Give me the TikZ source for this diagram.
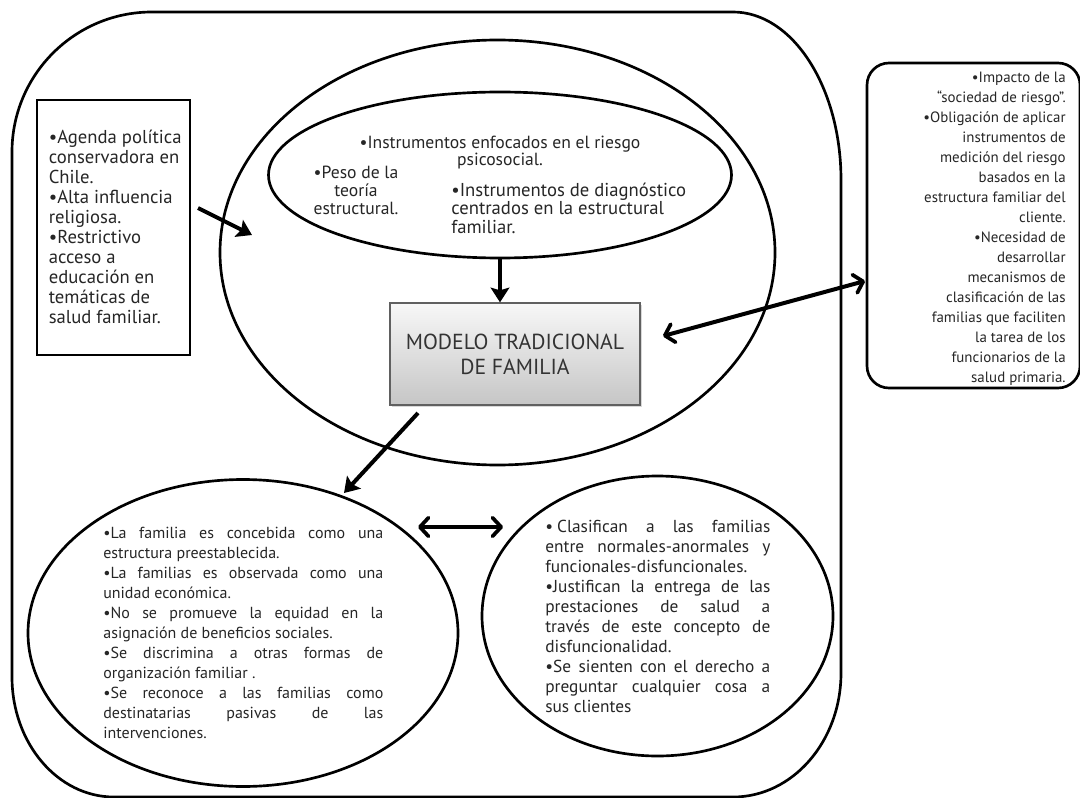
\documentclass[tikz,border=0pt]{standalone}
\usepackage{fontspec}
\setmainfont{PT Sans}
\usetikzlibrary{shapes.geometric,arrows.meta,shadows}
\newcommand\tp{\rule{0pt}{10.5pt}}
\newcommand\jl[2]{\makebox[#1][s]{#2}}
\begin{document}
\begin{tikzpicture}[x=0.75pt,y=-0.75pt,line width=2pt,
  txt/.style={inner sep=0pt,font=\fontsize{12}{15}\selectfont,text=black!85},
  shapeell/.style={ellipse,draw,inner sep=0pt},
  arr/.style={line width=3pt,-{Stealth[length=11pt,width=14pt,inset=2pt]}},
  darr/.style={line width=3pt,{Straight Barb[length=6.5pt,width=14pt,line width=2.8pt,line cap=round,line join=round]}-{Straight Barb[length=6.5pt,width=14pt,line width=2.8pt,line cap=round,line join=round]}}]
\useasboundingbox (0,0) rectangle (1080,798);
\fill[white] (0,0) rectangle (1080,798);
% outer frame
\draw (12,152) .. controls (12,74.7) and (74.7,12) .. (152,12) -- (733,12)
  .. controls (792.6,12) and (841,87.3) .. (841,180) -- (841,673)
  .. controls (841,741.4) and (792.6,797) .. (733,797) -- (114,797)
  .. controls (57.7,797) and (12,743.2) .. (12,677) -- cycle;
% shapes
\node[shapeell,minimum width=416.25pt,minimum height=318.75pt] (big) at (497.5,252.5) {};
\node[shapeell,minimum width=347.25pt,minimum height=124.5pt] (inner) at (500,175) {};
\node[draw=gray!75!black,line width=1pt,top color=gray!6,bottom color=gray!45,
  drop shadow={opacity=0.3,shadow xshift=1.5pt,shadow yshift=-1.5pt},
  minimum width=187.5pt,minimum height=76.5pt,inner sep=0pt,align=center,
  font=\fontsize{16.3}{18.75}\selectfont,text=black!80] (box) at (515,354)
  {MODELO TRADICIONAL\\DE FAMILIA};
\node[draw,rectangle,inner sep=0pt,minimum width=114.75pt,minimum height=191.25pt] (lbox) at (113.5,227.5) {};
\node[draw,rectangle,rounded corners=16.5pt,inner sep=0pt,minimum width=159.75pt,minimum height=243.75pt] (rbox) at (973.5,225.5) {};
\node[shapeell,minimum width=322.5pt,minimum height=230.25pt] (ll) at (243,633) {};
\node[shapeell,minimum width=263.25pt,minimum height=210pt] (lr) at (657.5,616) {};
% texts
\node[txt,anchor=north west,align=left,font=\fontsize{14}{15}\selectfont] (ltext) at (47.5,128.5)
 {\tp•Agenda política\\conservadora en\\Chile.\\•Alta influencia\\religiosa.\\•Restrictivo\\acceso a\\educación en\\temáticas de\\salud familiar.};
\node[txt,anchor=north east,align=right,font=\fontsize{11.2}{15}\selectfont] (rtext) at (1067,67.5)
 {\tp•Impacto de la\\“sociedad de riesgo”.\\•Obligación de aplicar\\instrumentos de\\medición del riesgo\\basados en la\\estructura familiar del\\cliente.\\•Necesidad de\\desarrollar\\mecanismos de\\clasificación de las\\familias que faciliten\\la tarea de los\\funcionarios de la\\salud primaria.};
\node[txt,anchor=north,align=center,font=\fontsize{13.2}{10}\selectfont] (t1) at (500,133)
 {\tp•Instrumentos enfocados en el riesgo\\psicosocial.};
\node[txt,anchor=north,align=center,font=\fontsize{13.2}{13.5}\selectfont] (t2) at (356,163)
 {\tp•Peso de la\\teoría\\estructural.};
\node[txt,anchor=north west,align=left,font=\fontsize{14}{14}\selectfont] (t3) at (450,181)
 {\tp•Instrumentos de diagnóstico\\centrados en la estructural\\familiar.};
\node[txt,anchor=north west,align=left] (lltext) at (102,523.5)
 {\tp\jl{210pt}{•La familia es concebida como una}\\
  estructura preestablecida.\\
  \jl{210pt}{•La familias es observada como una}\\
  unidad económica.\\
  \jl{210pt}{•No se promueve la equidad en la}\\
  asignación de beneficios sociales.\\
  \jl{210pt}{•Se discrimina a otras formas de}\\
  organización familiar .\\
  \jl{210pt}{•Se reconoce a las familias como}\\
  \jl{210pt}{destinatarias pasivas de las}\\
  intervenciones.};
\node[txt,anchor=north west,align=left,font=\fontsize{13}{15}\selectfont] (lrtext) at (544,517.5)
 {\tp\jl{168.75pt}{•\hspace{3pt}Clasifican a las familias}\\
  \jl{168.75pt}{entre normales-anormales y}\\
  funcionales-disfuncionales.\\
  \jl{168.75pt}{•Justifican la entrega de las}\\
  \jl{168.75pt}{prestaciones de salud a}\\
  \jl{168.75pt}{través de este concepto de}\\
  disfuncionalidad.\\
  \jl{168.75pt}{•Se sienten con el derecho a}\\
  \jl{168.75pt}{preguntar cualquier cosa a}\\
  sus clientes};
% connectors
\coordinate (a1s) at (198,208);
\coordinate (a1e) at (252,235);
\draw[arr] (a1s) -- (a1e);
\draw[arr] (inner.south) -- (inner.south |- box.north);
\coordinate (a3s) at (663,336);
\coordinate (a3e) at (865,281);
\draw[darr] (a3s) -- (a3e);
\coordinate (a4s) at (418,413);
\coordinate (a4e) at (344,493);
\draw[arr] (a4s) -- (a4e);
\coordinate (a5s) at (418,527);
\coordinate (a5e) at (503,527);
\draw[darr] (a5s) -- (a5e);
\end{tikzpicture}
\end{document}
